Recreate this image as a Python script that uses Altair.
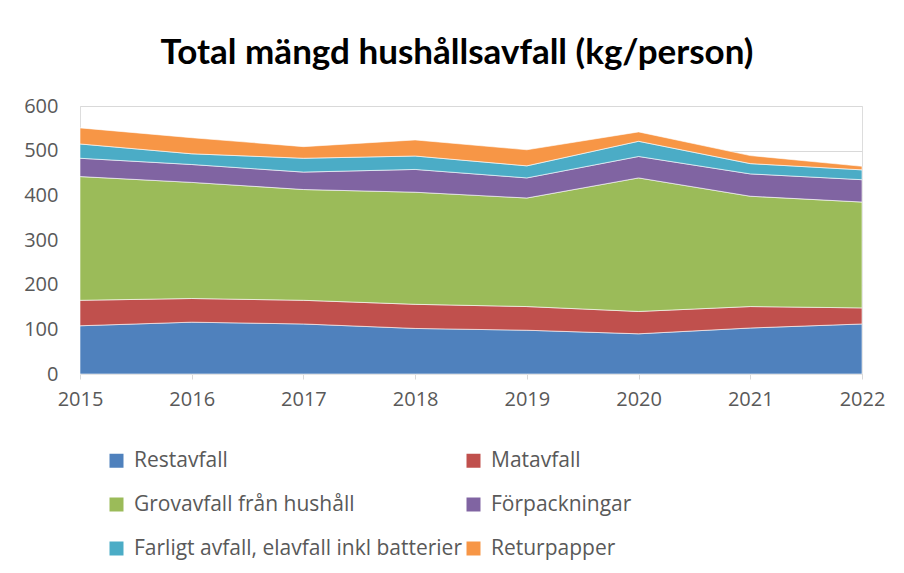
import altair as alt
import pandas as pd

years = [2015, 2016, 2017, 2018, 2019, 2020, 2021, 2022]
series = [
    "Restavfall",
    "Matavfall",
    "Grovavfall från hushåll",
    "Förpackningar",
    "Farligt avfall, elavfall inkl batterier",
    "Returpapper",
]
colors = ["#4F81BD", "#C0504D", "#9BBB59", "#8064A2", "#4BACC6", "#F79646"]

restavfall = [108, 116, 112, 102, 98, 90, 103, 112]
matavfall = [57, 53, 53, 54, 53, 50, 48, 36]
grovavfall = [277, 260, 248, 251, 243, 299, 247, 237]
forpackningar = [41, 40, 39, 51, 45, 48, 50, 50]
farligt = [32, 24, 31, 30, 27, 34, 23, 22]
returpapper = [36, 36, 26, 36, 36, 21, 18, 8]

values = [restavfall, matavfall, grovavfall, forpackningar, farligt, returpapper]

rows = []
for i, (name, vals) in enumerate(zip(series, values)):
    for y, v in zip(years, vals):
        rows.append({"year": y, "serie": name, "value": v, "idx": i})
df = pd.DataFrame(rows)

# legend is filled column by column: order so rows read left-to-right
legend_order = [0, 2, 4, 1, 3, 5]
legend_domain = [series[k] for k in legend_order]
legend_range = [colors[k] for k in legend_order]

chart = (
    alt.Chart(df)
    .mark_area(stroke="white", strokeWidth=0.6)
    .encode(
        x=alt.X(
            "year:Q",
            scale=alt.Scale(domain=[2015, 2022], nice=False, zero=False),
            axis=alt.Axis(
                values=years,
                format="d",
                title=None,
                grid=False,
                labelFlush=False,
                tickSize=5,
                tickColor="#d9d9d9",
                domainColor="#d9d9d9",
                labelPadding=10,
                labelFontSize=20,
                labelColor="#595959",
                labelFont="Open Sans",
            ),
        ),
        y=alt.Y(
            "value:Q",
            stack="zero",
            scale=alt.Scale(domain=[0, 600], nice=False),
            axis=alt.Axis(
                values=[0, 100, 200, 300, 400, 500, 600],
                title=None,
                domain=False,
                ticks=False,
                gridColor="#d9d9d9",
                labelPadding=22,
                labelFontSize=20,
                labelColor="#595959",
                labelFont="Open Sans",
            ),
        ),
        color=alt.Color(
            "serie:N",
            scale=alt.Scale(domain=legend_domain, range=legend_range),
            legend=alt.Legend(
                title=None,
                orient="none",
                legendX=26,
                legendY=344,
                columns=2,
                symbolType="square",
                symbolSize=196,
                symbolStrokeWidth=0,
                symbolOpacity=1,
                labelFontSize=21,
                labelColor="#595959",
                labelFont="Open Sans",
                labelOffset=7,
                rowPadding=22,
                columnPadding=1,
                labelLimit=500,
            ),
        ),
        order=alt.Order("idx:Q", sort="ascending"),
    )
    .properties(
        width=782,
        height=268,
        title=alt.TitleParams(
            "Total mängd hushållsavfall (kg/person)",
            font="Lato",
            fontSize=35,
            fontWeight="bold",
            color="#000000",
            anchor="middle",
            offset=25,
            dx=-14,
        ),
        autosize=alt.AutoSizeParams(type="none"),
        padding={"left": 72, "top": 98, "right": 34, "bottom": 191},
    )
    .configure_view(stroke=None)
    .configure(background="white")
)

chart.save("out.html", embed_options={"renderer": "svg", "actions": False})
